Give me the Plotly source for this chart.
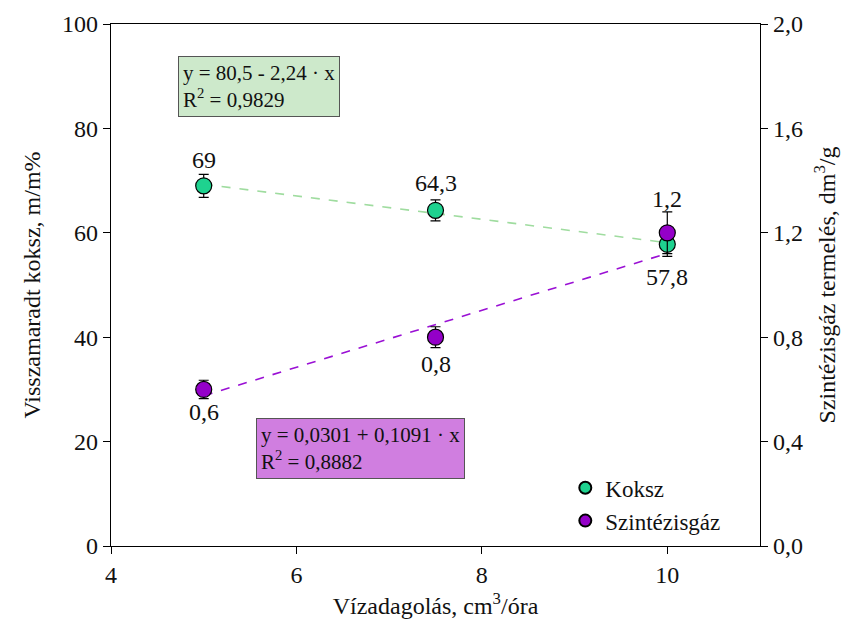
import plotly.graph_objects as go
import numpy as np

# Data
water = [5, 7.5, 10]
koksz = [69, 64.3, 57.8]
koksz_err = [2.2, 2.0, 2.3]
koksz_labels = ["69", "64,3", "57,8"]
syngas = [0.6, 0.8, 1.2]
syngas_err = [0.035, 0.04, 0.08]
syngas_labels = ["0,6", "0,8", "1,2"]
# fit coefficients (intercept, slope)
koksz_fit = [80.5, -2.24]
syngas_fit = [0.0301, 0.1091]
fit_x = [5, 10]

FONT = "Liberation Serif, Times New Roman, serif"
GREEN = "#1ed28f"
PURPLE = "#9400c8"
TXT = "#111"

def F(size):
    return dict(family=FONT, size=size, color=TXT)

fig = go.Figure()

fx = np.array(fit_x, dtype=float)
fig.add_trace(go.Scatter(x=fx, y=koksz_fit[0] + koksz_fit[1] * fx, mode="lines",
                         line=dict(color="#9fdc9f", width=1.6, dash="dash"),
                         showlegend=False, hoverinfo="skip"))
fig.add_trace(go.Scatter(x=fx, y=syngas_fit[0] + syngas_fit[1] * fx, mode="lines",
                         line=dict(color="#9a10d4", width=1.6, dash="dash"),
                         showlegend=False, hoverinfo="skip", yaxis="y2"))

fig.add_trace(go.Scatter(x=water, y=koksz, mode="markers", name="Koksz",
                         marker=dict(color=GREEN, size=16, line=dict(color="black", width=1.2)),
                         error_y=dict(type="data", array=koksz_err, color="black", thickness=1.2, width=5)))
fig.add_trace(go.Scatter(x=water, y=syngas, mode="markers", name="Szintézisgáz",
                         marker=dict(color=PURPLE, size=16, line=dict(color="black", width=1.2)),
                         error_y=dict(type="data", array=syngas_err, color="black", thickness=1.2, width=5),
                         yaxis="y2"))

# value labels
k_shift = [26, 27, -33]
s_shift = [-23, -27, 34]
for xv, yv, t, sh in zip(water, koksz, koksz_labels, k_shift):
    fig.add_annotation(x=xv, y=yv, xref="x", yref="y", text=t, showarrow=False, yshift=sh, font=F(24))
for xv, yv, t, sh in zip(water, syngas, syngas_labels, s_shift):
    fig.add_annotation(x=xv, y=yv, xref="x", yref="y2", text=t, showarrow=False, yshift=sh, font=F(24))

fig.update_layout(
    width=856, height=636,
    margin=dict(l=111, r=96, t=24, b=90),
    plot_bgcolor="white", paper_bgcolor="white",
    separators=", ",
    font=F(22),
    xaxis=dict(range=[4, 11], tickvals=[4, 6, 8, 10], showline=True, linecolor="black", linewidth=1.3,
               mirror=True, ticks="outside", ticklen=7, tickcolor="black", showgrid=False, zeroline=False,
               tickfont=F(24),
               title=dict(text="Vízadagolás, cm<sup>3</sup>/óra", font=F(24), standoff=10)),
    yaxis=dict(range=[0, 100], tickvals=[0, 20, 40, 60, 80, 100], showline=True, linecolor="black",
               linewidth=1.3, ticks="outside", ticklen=7, tickcolor="black", showgrid=False, zeroline=False,
               tickfont=F(24),
               title=dict(text="Visszamaradt koksz, m/m%", font=F(24), standoff=14)),
    yaxis2=dict(range=[0, 2], tickvals=[0, 0.4, 0.8, 1.2, 1.6, 2.0], tickformat=".1f", overlaying="y",
                side="right", showline=True, linecolor="black", linewidth=1.3, ticks="outside", ticklen=7,
                tickcolor="black", showgrid=False, zeroline=False, tickfont=F(24),
                title=dict(text="Szintézisgáz termelés, dm<sup>3</sup>/g", font=F(24), standoff=16)),
    legend=dict(x=0.70, y=0.08, xanchor="left", yanchor="middle", bgcolor="rgba(0,0,0,0)",
                font=F(23), itemsizing="constant", tracegroupgap=2),
)

# Equation boxes
fig.add_annotation(xref="paper", yref="paper", x=(178 - 111) / 649, y=(546 - 56) / 522,
                   xanchor="left", yanchor="top", align="left", showarrow=False,
                   text="y = 80,5 - 2,24 · x<br>R<sup>2</sup> = 0,9829",
                   font=F(21), bgcolor="#cde9cb", bordercolor="#555", borderwidth=1, borderpad=4)
fig.add_annotation(xref="paper", yref="paper", x=(256 - 111) / 649, y=(546 - 418) / 522,
                   xanchor="left", yanchor="top", align="left", showarrow=False,
                   text="y = 0,0301 + 0,1091 · x<br>R<sup>2</sup> = 0,8882",
                   font=F(21), bgcolor="#d07ee0", bordercolor="#555", borderwidth=1, borderpad=4)

fig.write_html("out.html")
